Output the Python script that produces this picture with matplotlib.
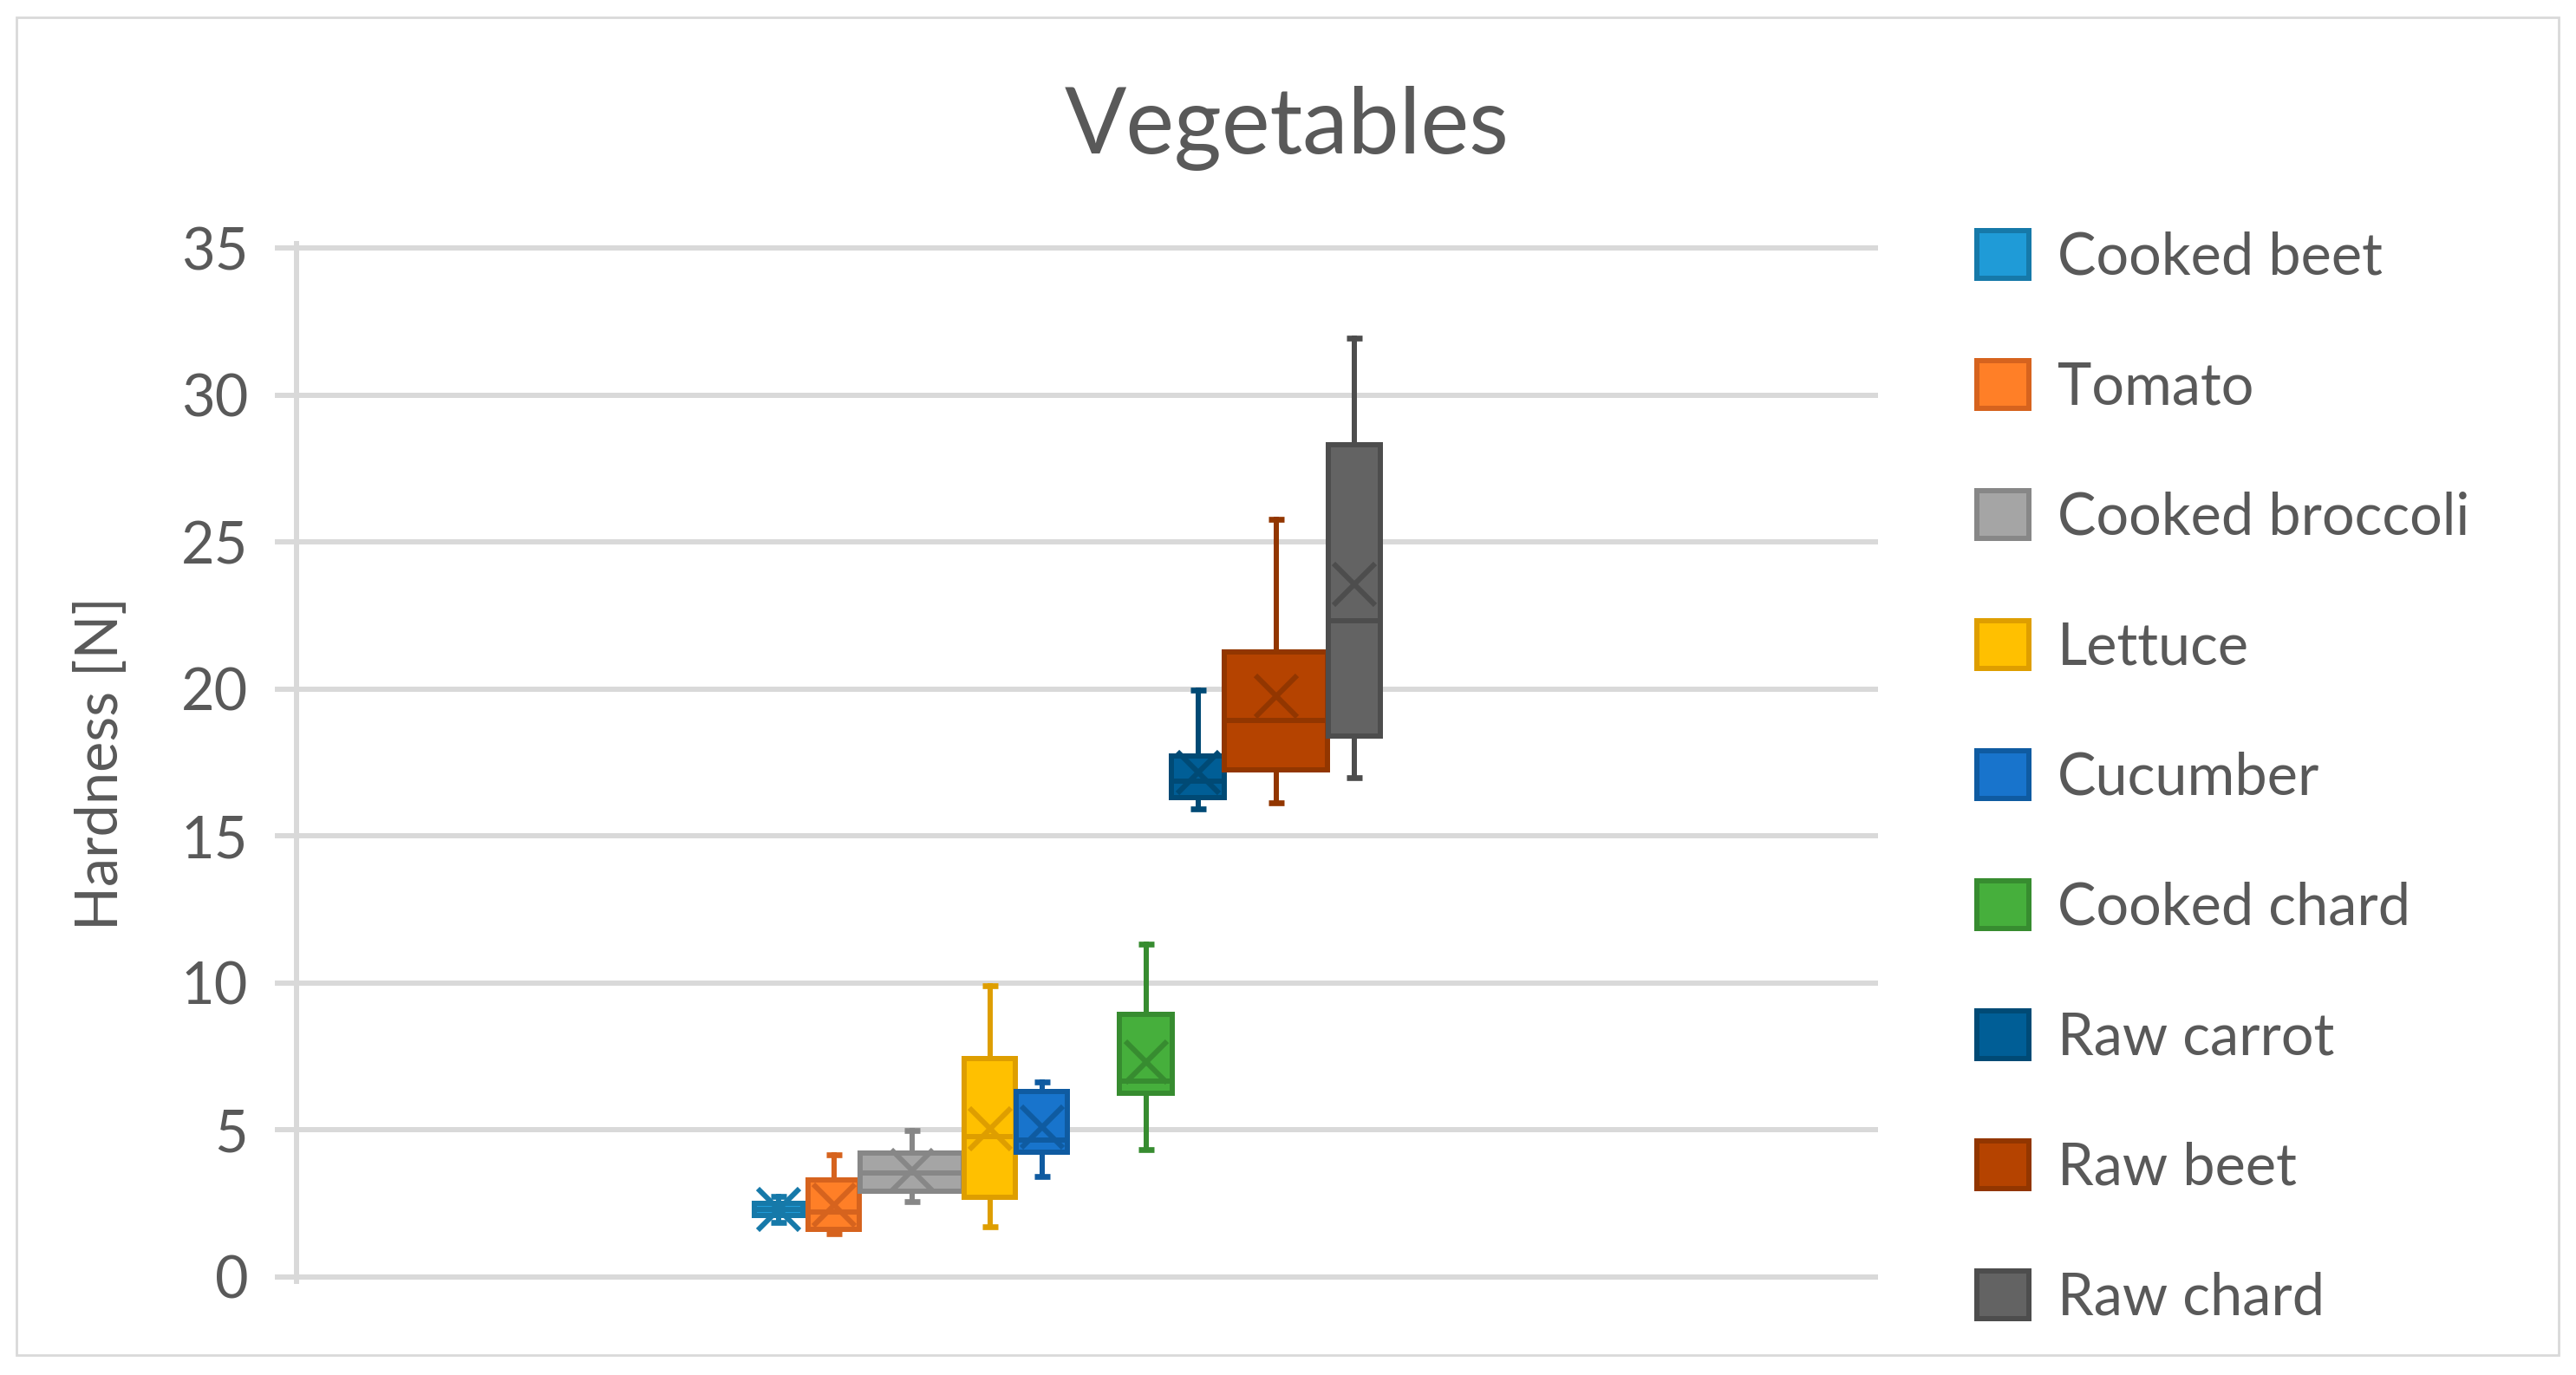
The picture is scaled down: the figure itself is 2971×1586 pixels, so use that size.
import matplotlib
matplotlib.use("Agg")
import matplotlib.pyplot as plt
from matplotlib.patches import Patch, Rectangle

# ---------------- data ----------------
series = ["Cooked beet", "Tomato", "Cooked broccoli", "Lettuce", "Cucumber",
          "Cooked chard", "Raw carrot", "Raw beet", "Raw chard"]
whis_lo = [1.86, 1.46, 2.55, 1.70, 3.40, 4.34, 15.91, 16.13, 16.97]
q1 = [2.08, 1.62, 2.90, 2.71, 4.23, 6.24, 16.30, 17.24, 18.39]
median = [2.30, 2.19, 3.54, 4.76, 4.65, 6.66, 16.86, 18.94, 22.33]
q3 = [2.49, 3.29, 4.22, 7.42, 6.31, 8.92, 17.72, 21.25, 28.30]
whis_hi = [2.72, 4.14, 4.99, 9.90, 6.64, 11.33, 19.96, 25.76, 31.92]
mean = [2.29, 2.44, 3.61, 5.04, 5.08, 7.30, 17.17, 19.76, 23.57]
y_ticks = [0, 5, 10, 15, 20, 25, 30, 35]

# ---------------- style / layout ----------------
face = ['#1F9BD7', '#FF7F27', '#A5A5A5', '#FFC000', '#1874CC',
        '#46AF3C', '#005E96', '#B54300', '#636363']
edge = ['#1679A9', '#D6631E', '#878787', '#DE9E00', '#0F5BA1',
        '#378C30', '#004A75', '#923600', '#4D4D4D']
# box centres and widths along the single category (pixel-like units)
pos = [556, 620, 710, 800, 860, 980, 1040, 1130, 1220]
wid = [56, 59, 119, 59, 59, 61, 61, 119, 60]
txt = '#595959'
grid = '#D9D9D9'
lw = 2.16

plt.rcParams['font.family'] = ['Lato', 'DejaVu Sans']

W, H, DPI = 2971, 1586, 200
fig = plt.figure(figsize=(W / DPI, H / DPI), dpi=DPI)

pad = 0.15
ppu = (1472.7 - 286) / 35.0
left, right = 341.7 / W, 2165.7 / W
bottom = (H - 1472.7 - pad * ppu) / H
top = (H - 286 + pad * ppu) / H
ax = fig.add_axes([left, bottom, right - left, top - bottom])

for i in range(len(series)):
    st = dict(label=series[i], whislo=whis_lo[i], q1=q1[i], med=median[i],
              q3=q3[i], whishi=whis_hi[i], mean=mean[i], fliers=[])
    ax.bxp([st], positions=[pos[i]], widths=[wid[i]], capwidths=[18],
           patch_artist=True, showmeans=True, showfliers=False,
           manage_ticks=False, zorder=3 + i,
           boxprops=dict(facecolor=face[i], edgecolor=edge[i], linewidth=lw,
                         joinstyle='miter'),
           whiskerprops=dict(color=edge[i], linewidth=lw),
           capprops=dict(color=edge[i], linewidth=2.4, solid_capstyle='butt'),
           medianprops=dict(color=edge[i], linewidth=lw, solid_capstyle='butt'),
           meanprops=dict(marker='x', markersize=17, markeredgecolor=edge[i],
                          markeredgewidth=lw))

ax.set_xlim(0, 1824)
ax.set_ylim(-pad, 35 + pad)
ax.set_yticks(y_ticks)
ax.set_xticks([])
ax.yaxis.grid(True, color=grid, linewidth=lw)
ax.set_axisbelow(True)
for s in ['top', 'right', 'bottom']:
    ax.spines[s].set_visible(False)
ax.spines['left'].set_color(grid)
ax.spines['left'].set_linewidth(lw)
ax.tick_params(axis='y', length=9, width=lw, color=grid, pad=11,
               labelsize=24, labelcolor=txt)

fig.text(1484 / W, 1 - 148 / H, "Vegetables", ha='center', va='center',
         fontsize=38, color=txt)
fig.text(117 / W, 1 - 881 / H, "Hardness [N]", ha='center', va='center',
         rotation=90, fontsize=24, color=txt)

handles = [Patch(facecolor=face[i], edgecolor=edge[i], linewidth=lw,
                 joinstyle='miter') for i in range(len(series))]
fig.legend(handles, series, loc='upper left',
           bbox_to_anchor=(2280 / W, 1 - 266 / H), frameon=False,
           fontsize=24, labelcolor=txt, handlelength=0.9, handleheight=0.9,
           handletextpad=0.49, labelspacing=1.31, borderpad=0, borderaxespad=0)

fig.add_artist(Rectangle((19 / W, 1 - 1563 / H), (2951 - 19) / W,
                         (1563 - 20) / H, transform=fig.transFigure,
                         fill=False, edgecolor=grid, linewidth=1.0))

fig.savefig("out.png", dpi=DPI, facecolor='white')
